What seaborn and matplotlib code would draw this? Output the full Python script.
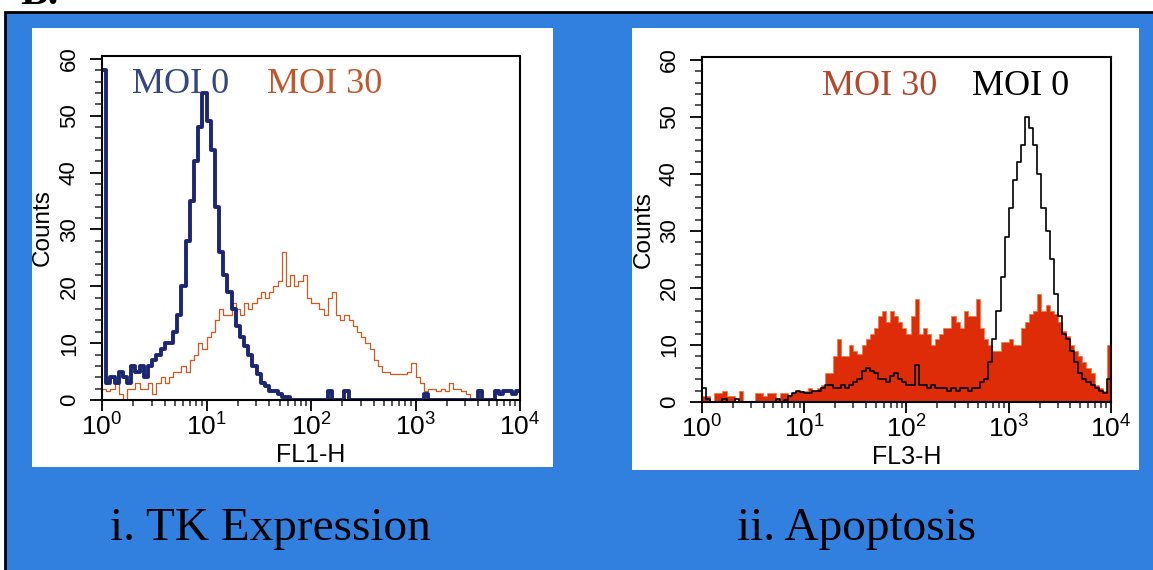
import numpy as np
import seaborn as sns
from matplotlib import pyplot as plt
from matplotlib import font_manager
from matplotlib.patches import Rectangle
from matplotlib.ticker import LogLocator, MultipleLocator, FuncFormatter, NullFormatter

# flow cytometry histograms: 100 log channels over four decades
n_channels = 100
decades = 4

tk_moi0 = [58, 3, 4, 3, 5, 4, 3, 6, 5, 6,
           4, 6, 7, 8, 9, 10, 10, 12, 15, 20,
           28, 35, 42, 48, 54, 49, 44, 34, 26, 22,
           19, 16, 13, 11, 9.5, 8, 6, 4.5, 3, 2.5,
           1.5, 1.5, 1, 0.5, 0.5, 0, 0, 0, 0, 0,
           0, 0, 0, 0, 1.5, 0, 0, 0, 1.5, 0,
           0, 0, 0, 0, 0, 0, 0, 0, 0, 0,
           0, 0, 0, 0, 0, 0, 0, 1, 0, 0,
           0, 0, 0, 0, 0, 0, 0, 0, 0, 0,
           1.5, 0, 0, 0, 1.5, 1, 1.5, 1.5, 1, 1.5]

tk_moi30 = [2, 1.5, 2, 3, 1, 0, 2, 2, 3, 2,
            2, 3, 1, 3, 4, 3, 4, 5, 5, 6,
            5, 7, 8, 10, 9, 11, 12, 14, 16, 15,
            15, 17, 16, 15, 17, 16, 17, 18, 19, 18,
            19, 20, 21, 26, 20, 22, 20, 21, 22, 18,
            17, 17, 16, 15, 18, 19, 15, 14, 15, 14,
            13, 12, 11, 10, 9, 7, 6, 5, 5, 4.5,
            4.5, 4.5, 4.5, 5, 6.5, 4, 3, 1.5, 2, 2,
            1.5, 2, 1.5, 3, 2, 2, 1.5, 1, 0, 0,
            0, 0, 0, 0, 0, 0, 0, 0, 0, 0]

apo_moi30 = [1, 1, 0, 1.5, 1.5, 2, 1, 1, 0, 2,
             0, 0, 0, 1.5, 1.5, 1, 1.5, 1.5, 0.5, 1.5,
             1.5, 1, 1.5, 2, 2, 2, 2.5, 2, 2.5, 3,
             5, 5, 8, 11, 8, 8, 10, 9, 8.5, 10,
             11, 12, 13, 15, 16, 14, 16, 15, 14, 13,
             12, 15, 18, 12, 13, 12, 10, 11, 12, 13,
             13, 15, 14, 13, 16, 15, 15, 18, 13, 11,
             10, 9, 9, 10.5, 10.5, 11, 10, 10, 13, 14,
             15.5, 16, 19, 16, 17, 16, 15.5, 14, 12.5, 11.5,
             10, 9, 8, 7, 6, 5, 3, 2.5, 2, 10]

apo_moi0 = [2.5, 0.5, 0, 0, 0, 0.5, 0, 0, 0.5, 0,
            0, 0, 0, 0, 0, 0, 0, 0, 0.5, 0,
            0.3, 1, 1.5, 2, 1.8, 1.5, 1.5, 2, 2, 2.5,
            3, 3, 2.5, 2.5, 3, 2.5, 3, 3.5, 4, 5.5,
            6, 5.5, 5, 4, 4, 3.5, 4.5, 5, 4, 3.5,
            3, 3, 6.5, 3, 3, 2.5, 3, 2.5, 2.5, 2.5,
            2, 2.5, 2, 2.5, 2.5, 2, 2.5, 2.5, 3.5, 4,
            7, 11, 16, 22, 29, 34, 39, 42, 45, 50,
            48, 45, 40, 34, 30, 25, 19, 15, 12, 11,
            9, 7, 5, 4, 3.5, 3, 2.5, 2, 1.5, 4]

panel_titles = ["i. TK Expression", "ii. Apoptosis"]
x_labels = ["FL1-H", "FL3-H"]

navy = "#1c2675"
orange = "#cf5a1c"
red_fill = "#de2c08"
blue_bg = "#3180e0"

sns.set_style("ticks")
names = {f.name for f in font_manager.fontManager.ttflist}
sans = "Liberation Sans Narrow" if "Liberation Sans Narrow" in names else "Liberation Sans"
plt.rcParams["font.family"] = [sans, "DejaVu Sans"]
plt.rcParams["mathtext.fontset"] = "custom"
plt.rcParams["mathtext.rm"] = sans
plt.rcParams["mathtext.it"] = sans
plt.rcParams["mathtext.bf"] = sans

centers = 10 ** ((np.arange(n_channels) + 0.5) * decades / n_channels)


def draw_hist(ax, counts, **kw):
    sns.histplot(x=centers, weights=counts, bins=n_channels, binrange=(0, decades),
                 log_scale=True, element="step", ax=ax, **kw)


def style_axis(ax, xlabel):
    ax.set_xlim(1, 10 ** decades)
    ax.set_ylim(0, 60.5)
    ax.xaxis.set_major_locator(LogLocator(base=10, numticks=10))
    ax.xaxis.set_minor_locator(LogLocator(base=10, subs=np.arange(2, 10), numticks=10))
    ax.xaxis.set_major_formatter(FuncFormatter(
        lambda v, p: r"$\mathrm{10^{%d}}$" % int(round(np.log10(v)))))
    ax.xaxis.set_minor_formatter(NullFormatter())
    ax.yaxis.set_major_locator(MultipleLocator(10))
    ax.yaxis.set_minor_locator(MultipleLocator(2))
    ax.tick_params(axis="x", which="major", direction="out", length=8, width=1.3,
                   labelsize=19, pad=2, colors="black")
    ax.tick_params(axis="x", which="minor", direction="out", length=4.5, width=1.1)
    ax.tick_params(axis="y", which="major", direction="out", length=9, width=1.3,
                   labelsize=16, pad=7, labelrotation=90, colors="black")
    ax.tick_params(axis="y", which="minor", direction="out", length=5, width=1.1)
    for lab in ax.get_yticklabels():
        lab.set_verticalalignment("center")
        lab.set_family("Liberation Sans")
    for s in ax.spines.values():
        s.set_visible(True)
        s.set_color("black")
        s.set_linewidth(1.5)
    ax.set_facecolor("white")
    ax.set_xlabel(xlabel, fontsize=18, color="black")
    ax.set_ylabel("Counts", fontsize=17.5, family="Liberation Sans", color="black")
    ax.xaxis.set_label_coords(0.5, -0.125)
    ax.yaxis.set_label_coords(-0.115, 0.5)
    ax.set_zorder(3)


fig = plt.figure(figsize=(11.53, 5.70), dpi=100)
fig.patch.set_facecolor("white")

fig.add_artist(Rectangle((5 / 1153, -0.02), 1.0, 1 - 12 / 570 + 0.02,
                         transform=fig.transFigure, facecolor=blue_bg,
                         edgecolor="black", linewidth=2, zorder=0.1))
fig.add_artist(Rectangle((32 / 1153, 1 - 467 / 570), 521 / 1153, 439 / 570,
                         transform=fig.transFigure, facecolor="white",
                         edgecolor="none", zorder=0.5))
fig.add_artist(Rectangle((632 / 1153, 1 - 470 / 570), 507 / 1153, 442 / 570,
                         transform=fig.transFigure, facecolor="white",
                         edgecolor="none", zorder=0.5))
fig.text(20 / 1153, 1 - 4 / 570, "B.", fontsize=30, fontweight="bold",
         family="Liberation Serif", va="baseline", color="black")

ax1 = fig.add_axes([102 / 1153, 1 - 400 / 570, 418 / 1153, 344 / 570])
ax2 = fig.add_axes([702 / 1153, 1 - 402 / 570, 409 / 1153, 345 / 570])

draw_hist(ax1, tk_moi30, fill=False, color=orange, linewidth=0.9)
draw_hist(ax1, tk_moi0, fill=False, color=navy, linewidth=2.8)
style_axis(ax1, x_labels[0])

draw_hist(ax2, apo_moi30, fill=True, color=red_fill, alpha=1,
          edgecolor="#ec7a34", linewidth=0.5)
draw_hist(ax2, apo_moi0, fill=False, color="black", linewidth=1.2)
style_axis(ax2, x_labels[1])

serif = "Liberation Serif"
label_kw = dict(fontsize=26, family=serif, va="baseline", zorder=5)
fig.text(132 / 1153, 1 - 93 / 570, "MOI 0", color="#34467f", **label_kw)
fig.text(267 / 1153, 1 - 93 / 570, "MOI 30", color="#c0582a", **label_kw)
fig.text(822 / 1153, 1 - 95 / 570, "MOI 30", color="#b4462c", **label_kw)
fig.text(972 / 1153, 1 - 95 / 570, "MOI 0", color="black", **label_kw)

fig.text(110 / 1153, 1 - 540 / 570, panel_titles[0], fontsize=34, family=serif,
         color="black", va="baseline")
fig.text(737 / 1153, 1 - 540 / 570, panel_titles[1], fontsize=34, family=serif,
         color="black", va="baseline")

fig.savefig("out.png", dpi=100, facecolor=fig.get_facecolor())
